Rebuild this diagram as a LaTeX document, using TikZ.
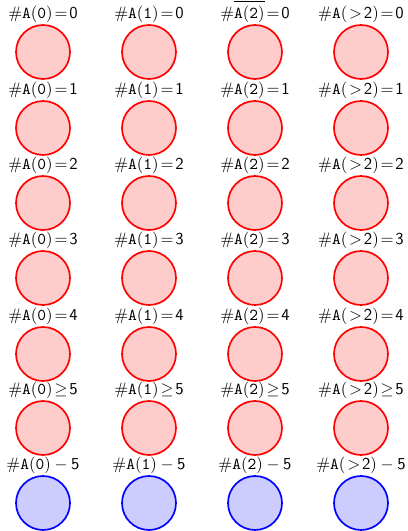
\documentclass[tikz,border=0pt]{standalone}
\usetikzlibrary{positioning}
\thickmuskip=2mu plus 1mu

\begin{document}
\begin{tikzpicture}[x=0.6pt, y=0.6pt,
    urn/.style={circle, draw=red, fill=red!20, line width=1pt, minimum size=32.4pt, inner sep=0pt},
    every label/.style={anchor=base, yshift=3.6pt},
    blueurn/.style={urn, draw=blue, fill=blue!20}]
    \useasboundingbox (0,0) rectangle (407,531);
    % Counts equal to k (rows 0 to 4)
    \node[urn, label=above:{$\#\mathtt{A(0)}=\mathsf{0}$}] (a0r0) at (43, 479) {};
    \node[urn, label=above:{$\#\mathtt{A(1)}=\mathsf{0}$}] (a1r0) at (149, 479) {};
    \node[urn, label=above:{$\#\overline{\vphantom{\big(}\mathtt{A(2)}}=\mathsf{0}$}] (a2r0) at (255, 479) {};
    \node[urn, label=above:{$\#\mathtt{A(}>\mathsf{2}\mathtt{)}=\mathsf{0}$}] (a3r0) at (361, 479) {};

    \node[urn, label=above:{$\#\mathtt{A(0)}=\mathsf{1}$}] (a0r1) at (43, 403) {};
    \node[urn, label=above:{$\#\mathtt{A(1)}=\mathsf{1}$}] (a1r1) at (149, 403) {};
    \node[urn, label=above:{$\#\mathtt{A(2)}=\mathsf{1}$}] (a2r1) at (255, 403) {};
    \node[urn, label=above:{$\#\mathtt{A(}>\mathsf{2}\mathtt{)}=\mathsf{1}$}] (a3r1) at (361, 403) {};

    \node[urn, label=above:{$\#\mathtt{A(0)}=\mathsf{2}$}] (a0r2) at (43, 328) {};
    \node[urn, label=above:{$\#\mathtt{A(1)}=\mathsf{2}$}] (a1r2) at (149, 328) {};
    \node[urn, label=above:{$\#\mathtt{A(2)}=\mathsf{2}$}] (a2r2) at (255, 328) {};
    \node[urn, label=above:{$\#\mathtt{A(}>\mathsf{2}\mathtt{)}=\mathsf{2}$}] (a3r2) at (361, 328) {};

    \node[urn, label=above:{$\#\mathtt{A(0)}=\mathsf{3}$}] (a0r3) at (43, 253) {};
    \node[urn, label=above:{$\#\mathtt{A(1)}=\mathsf{3}$}] (a1r3) at (149, 253) {};
    \node[urn, label=above:{$\#\mathtt{A(2)}=\mathsf{3}$}] (a2r3) at (255, 253) {};
    \node[urn, label=above:{$\#\mathtt{A(}>\mathsf{2}\mathtt{)}=\mathsf{3}$}] (a3r3) at (361, 253) {};

    \node[urn, label=above:{$\#\mathtt{A(0)}=\mathsf{4}$}] (a0r4) at (43, 177) {};
    \node[urn, label=above:{$\#\mathtt{A(1)}=\mathsf{4}$}] (a1r4) at (149, 177) {};
    \node[urn, label=above:{$\#\mathtt{A(2)}=\mathsf{4}$}] (a2r4) at (255, 177) {};
    \node[urn, label=above:{$\#\mathtt{A(}>\mathsf{2}\mathtt{)}=\mathsf{4}$}] (a3r4) at (361, 177) {};

    % At least five
    \node[urn, label=above:{$\#\mathtt{A(0)}\geq\mathsf{5}$}] (a0r5) at (43, 103) {};
    \node[urn, label=above:{$\#\mathtt{A(1)}\geq\mathsf{5}$}] (a1r5) at (149, 103) {};
    \node[urn, label=above:{$\#\mathtt{A(2)}\geq\mathsf{5}$}] (a2r5) at (255, 103) {};
    \node[urn, label=above:{$\#\mathtt{A(}>\mathsf{2}\mathtt{)}\geq\mathsf{5}$}] (a3r5) at (361, 103) {};

    % Blue row
    \node[blueurn, label=above:{$\#\mathtt{A(0)}-\mathsf{5}$}] (a0r6) at (43, 28) {};
    \node[blueurn, label=above:{$\#\mathtt{A(1)}-\mathsf{5}$}] (a1r6) at (149, 28) {};
    \node[blueurn, label=above:{$\#\mathtt{A(2)}-\mathsf{5}$}] (a2r6) at (255, 28) {};
    \node[blueurn, label=above:{$\#\mathtt{A(}>\mathsf{2}\mathtt{)}-\mathsf{5}$}] (a3r6) at (361, 28) {};
\end{tikzpicture}
\end{document}
